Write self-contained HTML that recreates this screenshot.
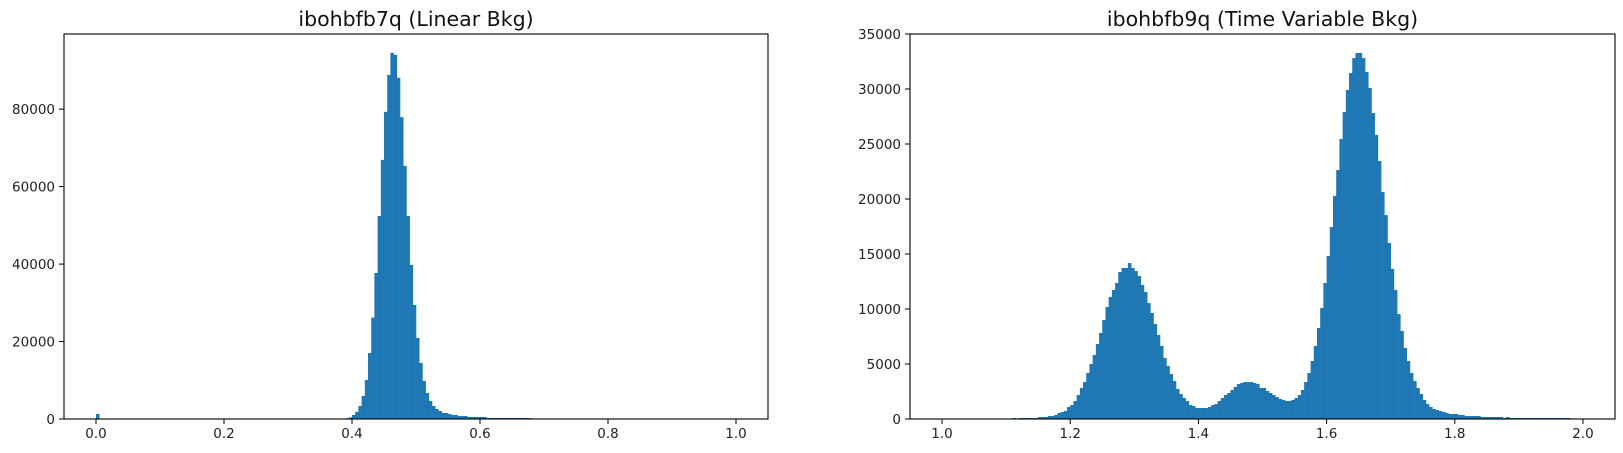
<!DOCTYPE html>
<html><head><meta charset="utf-8"><style>
html,body{margin:0;padding:0;background:#fff;}
svg{display:block;font-family:"DejaVu Sans","Liberation Sans",sans-serif;}
</style></head><body>
<svg id="fig" width="1623" height="453" xmlns="http://www.w3.org/2000/svg"></svg>
<script>
// ---- Left panel data (200 bins over [0,1]) ----
const leftBinMin = 0, leftBinMax = 1, leftBinCount = 200;
const leftSpikeBin = 0, leftSpikeCount = 1290;
const leftStartBin = 77;
const leftCounts = [100,200,430,1030,1810,3360,5940,10070,17050,26170,37710,52430,66900,79300,88850,94540,94020,88080,77920,65350,52430,39780,29450,20920,14460,9820,6720,4650,3360,2580,2070,1550,1550,1290,1030,1030,775,775,775,520,520,520,520,520,520,260,260,260,260,260,260,260,260,260,260,260,260,260,260];
const leftXTicks = [0.0,0.2,0.4,0.6,0.8,1.0];
const leftYTicks = [0,20000,40000,60000,80000];
// ---- Right panel data (200 bins over [1,2]) ----
const rightBinMin = 1, rightBinMax = 2, rightBinCount = 200;
const rightStartBin = 22;
const rightCounts = [90,0,90,90,90,90,90,90,180,180,180,270,270,
360,545,636,727,1090,1270,1640,2180,2820,3360,4180,5000,5820,6820,7820,9000,10180,11090,11730,12360,13360,13730,13730,14180,13730,13450,13000,12180,11540,10540,9640,8640,7640,6640,5540,4820,4090,3450,2730,2270,1910,1640,1270,1180,
1000,1000,1000,1000,
1090,1270,1360,1640,1910,2180,2360,2640,2910,3180,3270,
3360,3360,3360,3270,3180,2820,2820,2550,2360,2180,2000,1820,
1730,1640,1640,1730,
1910,2180,2640,3360,4180,5270,6640,8270,10090,12360,14820,17450,20270,22630,25450,27900,29910,31450,32810,33270,33270,32810,31540,30090,27810,25820,23450,20630,18540,16000,13640,11730,9540,8000,6450,5270,4180,3450,2820,2270,1730,1360,1090,910,820,730,640,545,
455,455,455,364,364,273,273,273,273,273,182,182,182,182,182,182,182,90,182,
90,90,90,90,90,90,90,90,90,90,90,90,90,90,90,90,90,90,90];
const rightXTicks = [1.0,1.2,1.4,1.6,1.8,2.0];
const rightYTicks = [0,5000,10000,15000,20000,25000,30000,35000];

const svg = document.getElementById('fig');
const NS = 'http://www.w3.org/2000/svg';
function el(tag, attrs, parent){const e=document.createElementNS(NS,tag);for(const k in attrs)e.setAttribute(k,attrs[k]);(parent||svg).appendChild(e);return e;}

function panel(cfg){
  const g = el('g',{});
  
  
  const L=cfg.left,R=cfg.right,T=34,B=419;
  const xs = v => L + (v - cfg.xmin)/(cfg.xmax-cfg.xmin)*(R-L);
  const ys = v => B - v/cfg.ymax*(B-T);
  const bw = (cfg.binMax-cfg.binMin)/cfg.binCount;
  const bars = el('g',{fill:'#1f77b4'},g);
  
  
  function bar(i,c){
    if(c<=0) return;
    const x0=xs(cfg.binMin+i*bw), x1=xs(cfg.binMin+(i+1)*bw);
    const r=el('rect',{x:x0,y:ys(c),width:x1-x0+0.3,height:B-ys(c)},bars);
    
    
  }
  if(cfg.spike) bar(cfg.spike[0],cfg.spike[1]);
  cfg.counts.forEach((c,j)=>bar(cfg.start+j,c));
  const frame=el('rect',{x:L,y:T,width:R-L,height:B-T,fill:'none',stroke:'#000','stroke-width':1.1},g);
  
  
  cfg.xticks.forEach(v=>{
    const x=xs(v);
    el('line',{x1:x,x2:x,y1:B,y2:B+5,stroke:'#000','stroke-width':1},g);
    const t=el('text',{x:x,y:B+19,'font-size':13.5,'text-anchor':'middle',fill:'#222'},g);
    t.textContent=v.toFixed(1);
    
    
  });
  cfg.yticks.forEach(v=>{
    const y=ys(v);
    el('line',{x1:L-5,x2:L,y1:y,y2:y,stroke:'#000','stroke-width':1},g);
    const t=el('text',{x:L-9,y:y+5,'font-size':13.5,'text-anchor':'end',fill:'#222'},g);
    t.textContent=String(v);
    
    
  });
  const title=el('text',{x:(L+R)/2,y:26,'font-size':20.5,'text-anchor':'middle',fill:'#111'},g);
  title.textContent=cfg.title;
  
  
}

panel({name:'left-histogram',left:64,right:768,xmin:-0.05,xmax:1.05,ymax:99400,
  binMin:leftBinMin,binMax:leftBinMax,binCount:leftBinCount,start:leftStartBin,counts:leftCounts,
  spike:[leftSpikeBin,leftSpikeCount],xticks:leftXTicks,yticks:leftYTicks,title:'ibohbfb7q (Linear Bkg)'});
panel({name:'right-histogram',left:910,right:1615,xmin:0.95,xmax:2.05,ymax:35000,
  binMin:rightBinMin,binMax:rightBinMax,binCount:rightBinCount,start:rightStartBin,counts:rightCounts,
  xticks:rightXTicks,yticks:rightYTicks,title:'ibohbfb9q (Time Variable Bkg)'});
</script>
</body></html>
